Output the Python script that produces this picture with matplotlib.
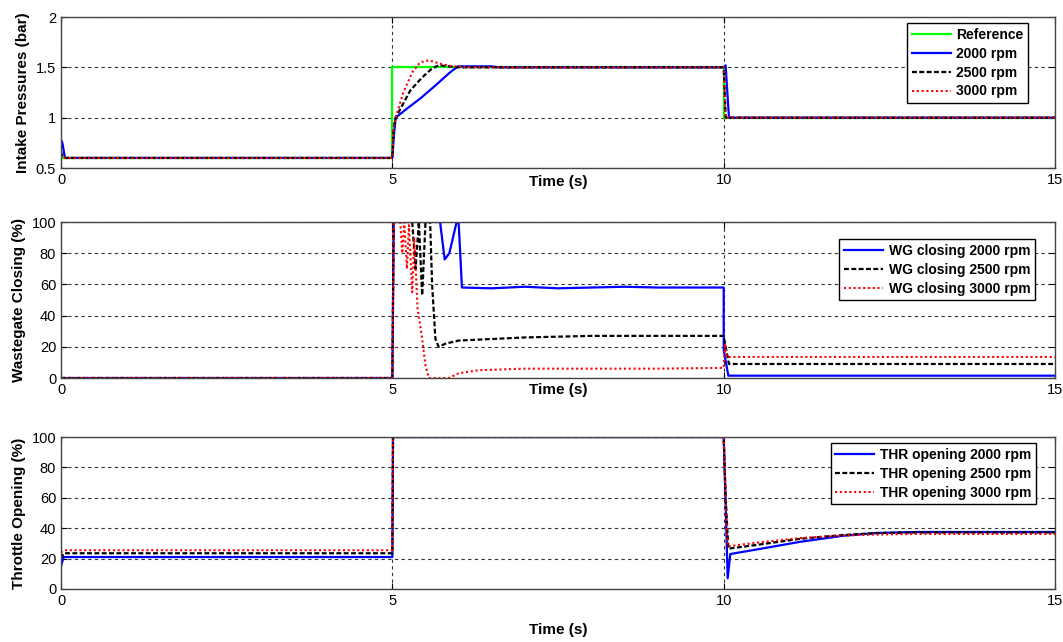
import matplotlib
matplotlib.use('Agg')
import matplotlib.pyplot as plt

plt.rcParams['font.family'] = ['Liberation Sans', 'DejaVu Sans']

# --- intake pressure (bar) ---
ref_t = [0, 5, 5, 10, 10, 15]
ref_p = [0.6, 0.6, 1.5, 1.5, 1.0, 1.0]

p2000_t = [0, 0.02, 0.06, 5.0, 5.02, 5.05, 5.2, 5.42, 5.65, 5.87, 5.99, 6.5, 6.6, 10.0, 10.03, 10.05, 10.08, 15]
p2000_p = [0.78, 0.75, 0.6, 0.6, 0.8, 1.0, 1.08, 1.19, 1.32, 1.45, 1.51, 1.51, 1.5, 1.5, 1.52, 1.3, 1.0, 1.0]

p2500_t = [0, 0.03, 5.0, 5.02, 5.05, 5.27, 5.45, 5.6, 5.7, 5.85, 6.0, 10.0, 10.03, 15]
p2500_p = [0.66, 0.6, 0.6, 0.9, 1.0, 1.27, 1.4, 1.49, 1.52, 1.51, 1.5, 1.5, 1.0, 1.0]

p3000_t = [0, 0.03, 5.0, 5.02, 5.05, 5.16, 5.3, 5.42, 5.55, 5.7, 5.9, 6.2, 10.0, 10.03, 15]
p3000_p = [0.63, 0.6, 0.6, 0.9, 1.0, 1.24, 1.45, 1.55, 1.57, 1.54, 1.51, 1.5, 1.5, 1.0, 1.0]

# --- wastegate closing (%) ---
wg2000_t = [0, 5.0, 5.01, 5.02, 5.72, 5.79, 5.86, 5.97, 6.0, 6.05, 6.5, 7.0, 7.5, 8.0, 8.5, 9.0, 10.0, 10.0, 10.07, 15]
wg2000_v = [0, 0, 48, 100, 100, 76, 80, 100, 100, 58, 57.5, 58.5, 57.5, 58, 58.5, 58, 58, 18, 1.5, 1.5]

wg2500_t = [0, 5.0, 5.02, 5.3, 5.35, 5.4, 5.45, 5.5, 5.57, 5.6, 5.65, 5.7, 5.8, 6.0, 6.5, 7.0, 8.0, 9.0, 10.0, 10.03, 10.08, 15]
wg2500_v = [0, 0, 100, 100, 70, 100, 53, 100, 100, 60, 25, 20, 22, 24, 25, 26, 27, 27, 27, 20, 9, 9]

wg3000_t = [0, 5.0, 5.02, 5.12, 5.15, 5.18, 5.22, 5.25, 5.3, 5.33, 5.38, 5.45, 5.5, 5.55, 5.85, 6.0, 6.3, 7.0, 8.0, 9.0, 10.0, 10.02, 10.05, 15]
wg3000_v = [0, 0, 100, 100, 80, 100, 70, 98, 55, 90, 45, 25, 8, 0, 0, 3, 5, 6, 6, 6, 6.5, 22, 13.5, 13.5]

# --- throttle opening (%) ---
thr2000_t = [0, 0.04, 0.1, 5.0, 5.01, 10.0, 10.03, 10.06, 10.1, 10.5, 11.15, 11.8, 12.3, 12.9, 15]
thr2000_v = [15, 21, 21, 21, 100, 100, 55, 7, 23, 26, 31, 35, 36.8, 37.5, 37.5]

thr2500_t = [0, 0.04, 0.1, 5.0, 5.01, 10.0, 10.03, 10.07, 10.5, 11.15, 11.8, 12.3, 12.9, 15]
thr2500_v = [20, 23.5, 23.5, 23.5, 100, 100, 60, 26.5, 29, 33, 35.5, 36.8, 37.2, 37.2]

thr3000_t = [0, 0.04, 0.1, 5.0, 5.01, 10.0, 10.03, 10.06, 10.5, 11.15, 11.8, 12.3, 12.9, 15]
thr3000_v = [24, 25.5, 25.5, 25.5, 100, 100, 60, 28, 30.5, 33.5, 35.2, 35.8, 36.2, 36.2]

blue = (0, 0, 1)
red = (1, 0, 0)
green = (0, 1, 0)
dash = (0, (2.2, 1.1))
dot = (0, (1, 1.3))

fig = plt.figure(figsize=(10.63, 6.42), dpi=100)
left, width = 0.0574, 0.9351
ax1 = fig.add_axes([left, 0.7383, width, 0.2352])
ax2 = fig.add_axes([left, 0.4112, width, 0.2430])
ax3 = fig.add_axes([left, 0.0826, width, 0.2367])

ax1.plot(ref_t, ref_p, color=green, lw=1.6, label='Reference')
ax1.plot(p2000_t, p2000_p, color=blue, lw=1.6, label='2000 rpm')
ax1.plot(p2500_t, p2500_p, color='k', lw=1.6, ls=dash, label='2500 rpm')
ax1.plot(p3000_t, p3000_p, color=red, lw=1.5, ls=dot, label='3000 rpm')
ax1.set_ylim(0.5, 2)
ax1.set_yticks([0.5, 1, 1.5, 2])
ax1.set_yticklabels(['0.5', '1', '1.5', '2'])
ax1.set_ylabel('Intake Pressures (bar)', fontweight='bold', fontsize=11)

ax2.plot(wg2000_t, wg2000_v, color=blue, lw=1.6, label='WG closing 2000 rpm')
ax2.plot(wg2500_t, wg2500_v, color='k', lw=1.6, ls=dash, label='WG closing 2500 rpm')
ax2.plot(wg3000_t, wg3000_v, color=red, lw=1.5, ls=dot, label='WG closing 3000 rpm')
ax2.set_ylim(0, 100)
ax2.set_yticks([0, 20, 40, 60, 80, 100])
ax2.set_ylabel('Wastegate Closing (%)', fontweight='bold', fontsize=11)

ax3.plot(thr2000_t, thr2000_v, color=blue, lw=1.6, label='THR opening 2000 rpm')
ax3.plot(thr2500_t, thr2500_v, color='k', lw=1.6, ls=dash, label='THR opening 2500 rpm')
ax3.plot(thr3000_t, thr3000_v, color=red, lw=1.5, ls=dot, label='THR opening 3000 rpm')
ax3.set_ylim(0, 100)
ax3.set_yticks([0, 20, 40, 60, 80, 100])
ax3.set_ylabel('Throttle Opening (%)', fontweight='bold', fontsize=11)

# legend anchors (upper right corner, axes fraction) and xlabel pads
leg_pos = [(0.973, 0.960), (0.980, 0.891), (0.981, 0.961)]
xlab_pad = [-8.5, -10, 11]

for ax, lp, pad in zip((ax1, ax2, ax3), leg_pos, xlab_pad):
    ax.set_xlim(0, 15)
    ax.set_xticks([0, 5, 10, 15])
    ax.set_xlabel('Time (s)', fontweight='bold', fontsize=11, labelpad=pad)
    ax.grid(True, color='#333333', ls=(0, (3, 3)), lw=0.8)
    ax.tick_params(direction='in', length=4, labelsize=10.5, top=True, right=True, width=0.8)
    for s in ax.spines.values():
        s.set_color('#444444')
        s.set_linewidth(1.0)
    leg = ax.legend(loc='upper right', fancybox=False, edgecolor='k', framealpha=1,
                    prop={'weight': 'bold', 'size': 10}, handlelength=2.8,
                    borderpad=0.35, labelspacing=0.35, handletextpad=0.4,
                    borderaxespad=0, bbox_to_anchor=lp)
    leg.get_frame().set_linewidth(1.0)

fig.savefig('out.png', dpi=100)
